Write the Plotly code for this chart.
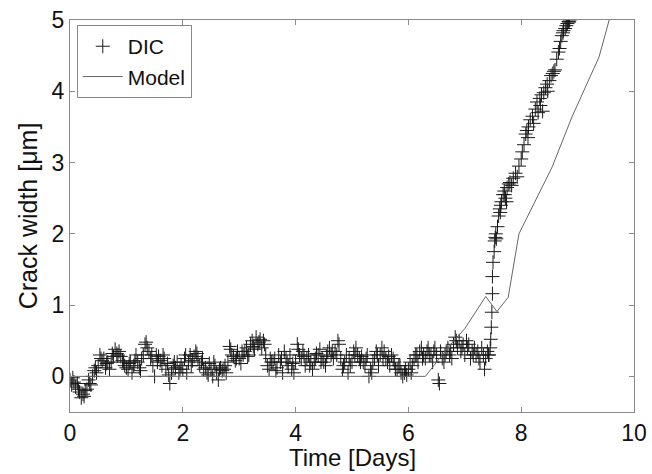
import plotly.graph_objects as go

# DIC measurements: time [days] and crack width [um]
dic_time = [
    0.00,0.03,0.07,0.10,0.13,0.17,0.20,0.23,0.27,0.30,0.33,0.37,0.40,0.43,0.47,0.50,0.53,0.57,0.60,0.63,0.67,0.70,0.73,0.77,0.80,0.83,0.87,0.90,0.93,0.97,
    1.00,1.03,1.07,1.10,1.13,1.17,1.20,1.23,1.27,1.30,1.33,1.37,1.40,1.43,1.47,1.50,1.53,1.57,1.60,1.63,1.67,1.70,1.73,1.77,1.80,1.83,1.87,1.90,1.93,1.97,
    2.00,2.03,2.07,2.10,2.13,2.17,2.20,2.23,2.27,2.30,2.33,2.37,2.40,2.43,2.47,2.50,2.53,2.57,2.60,2.63,2.67,2.70,2.73,2.77,2.80,2.83,2.87,2.90,2.93,2.97,
    3.00,3.03,3.07,3.10,3.13,3.17,3.20,3.23,3.27,3.30,3.33,3.37,3.40,3.43,3.47,3.50,3.53,3.57,3.60,3.63,3.67,3.70,3.73,3.77,3.80,3.83,3.87,3.90,3.93,3.97,
    4.00,4.03,4.07,4.10,4.13,4.17,4.20,4.23,4.27,4.30,4.33,4.37,4.40,4.43,4.47,4.50,4.53,4.57,4.60,4.63,4.67,4.70,4.73,4.77,4.80,4.83,4.87,4.90,4.93,4.97,
    5.00,5.03,5.07,5.10,5.13,5.17,5.20,5.23,5.27,5.30,5.33,5.37,5.40,5.43,5.47,5.50,5.53,5.57,5.60,5.63,5.67,5.70,5.73,5.77,5.80,5.83,5.87,5.90,5.93,5.97,
    6.00,6.03,6.07,6.10,6.13,6.17,6.20,6.23,6.27,6.30,6.33,6.37,6.40,6.43,6.47,6.50,6.53,6.57,6.60,6.63,6.67,6.70,6.73,6.77,6.80,6.83,6.87,6.90,6.93,6.97,
    7.00,7.03,7.07,7.10,7.13,7.17,7.20,7.23,7.27,7.30,7.33,7.37,7.40,7.43,7.45,
    7.46,7.47,7.48,7.49,7.49,7.50,7.52,7.53,7.54,7.55,7.56,7.58,7.60,7.62,7.63,7.65,7.68,7.70,7.72,7.75,
    7.78,7.80,7.83,7.86,7.90,7.93,7.96,8.00,8.02,8.05,8.08,8.10,8.13,8.16,8.20,8.22,8.25,8.28,8.30,8.33,
    8.36,8.38,8.40,8.43,8.46,8.50,8.53,8.56,8.60,8.63,8.66,8.68,8.70,8.72,8.75,8.78,8.80,8.82,8.84,8.86,
    # interleaved readings
    0.05,0.15,0.25,0.35,0.45,0.55,0.65,0.75,0.85,0.95,
    1.05,1.15,1.25,1.35,1.45,1.55,1.65,1.75,1.85,1.95,
    2.05,2.15,2.25,2.35,2.45,2.55,2.65,2.75,2.85,2.95,
    3.05,3.15,3.25,3.35,3.45,3.55,3.65,3.75,3.85,3.95,
    4.05,4.15,4.25,4.35,4.45,4.55,4.65,4.75,4.85,4.95,
    5.05,5.15,5.25,5.35,5.45,5.55,5.65,5.75,5.85,5.95,
    6.05,6.15,6.25,6.35,6.45,6.55,6.65,6.75,6.85,6.95,
    7.05,7.15,7.25,7.35,7.42,
    7.64,7.71,7.74,8.12,8.34,8.47,8.58,8.74,8.85,
]
dic_width = [
    -0.05,-0.12,-0.08,-0.15,-0.10,-0.22,-0.30,-0.25,-0.20,-0.18,-0.05,-0.12,0.00,0.08,0.05,0.15,0.30,0.22,0.25,0.12,0.20,0.10,0.20,0.28,0.38,0.32,0.35,0.28,0.22,0.15,
    0.12,0.10,0.20,0.05,0.15,0.30,0.20,0.12,0.25,0.30,0.45,0.40,0.35,0.25,0.15,0.00,0.30,0.28,0.22,0.15,0.25,0.10,0.18,-0.10,0.05,0.15,0.12,0.20,0.05,0.15,
    0.10,0.25,0.05,0.20,0.30,0.22,0.28,0.35,0.25,0.15,0.20,0.10,0.12,0.05,0.18,0.10,0.00,0.15,0.05,-0.05,0.12,0.08,0.10,0.05,0.20,0.42,0.30,0.28,0.22,0.35,
    0.25,0.18,0.30,0.35,0.40,0.30,0.45,0.50,0.38,0.55,0.45,0.52,0.40,0.50,0.30,0.15,0.10,0.20,0.20,0.25,0.12,0.30,0.20,0.05,0.35,0.25,0.15,0.30,0.10,0.05,
    0.20,0.45,0.30,0.25,0.35,0.15,0.25,0.30,0.20,0.10,0.20,0.32,0.30,0.38,0.25,0.20,0.15,0.35,0.40,0.30,0.25,0.35,0.30,0.45,0.25,0.10,0.20,0.30,0.05,0.15,
    0.20,0.35,0.40,0.30,0.25,0.28,0.20,0.15,0.30,0.00,0.10,0.20,0.25,0.35,0.15,0.30,0.40,0.35,0.25,0.20,0.15,0.30,0.25,0.10,0.10,0.15,0.05,0.00,0.05,0.02,
    0.10,0.20,0.15,0.25,0.30,0.20,0.35,0.40,0.30,0.25,0.35,0.30,0.30,0.20,0.40,0.30,-0.05,0.35,0.25,0.20,0.35,0.40,0.30,0.25,0.45,0.55,0.40,0.50,0.35,0.45,
    0.30,0.50,0.45,0.25,0.35,0.40,0.30,0.35,0.20,0.40,0.30,0.25,0.35,0.30,0.40,
    0.52,0.69,0.90,1.16,1.40,1.60,1.75,1.90,1.95,2.00,1.93,2.10,2.25,2.35,2.30,2.45,2.55,2.60,2.50,2.65,
    2.70,2.72,2.68,2.78,2.85,2.80,2.95,3.05,3.15,3.25,3.40,3.45,3.50,3.60,3.65,3.55,3.75,3.85,3.70,3.90,
    3.95,3.72,3.98,4.05,4.10,4.15,4.22,4.25,4.30,4.45,4.55,4.60,4.70,4.78,4.85,4.88,4.92,4.95,4.98,5.00,
    # interleaved readings
    -0.02,-0.18,-0.28,-0.10,0.12,0.25,0.18,0.32,0.30,0.20,
    0.18,0.22,0.08,0.48,0.30,0.20,0.30,0.02,0.20,0.10,
    0.30,0.15,0.32,0.25,0.02,0.20,0.10,0.15,0.38,0.25,
    0.35,0.28,0.42,0.48,0.45,0.25,0.08,0.25,0.20,0.18,
    0.38,0.28,0.15,0.25,0.20,0.28,0.35,0.50,0.15,0.25,
    0.30,0.20,0.25,0.05,0.30,0.25,0.28,0.20,0.15,0.10,
    0.05,0.30,0.25,0.40,0.35,-0.10,0.30,0.35,0.50,0.40,
    0.40,0.30,0.25,0.10,0.30,
    2.40,2.55,2.45,3.35,3.80,4.00,4.28,4.82,4.97,
]

# Model prediction
model_time = [0.0, 6.3, 6.75, 7.0, 7.37, 7.57, 7.77, 7.96, 8.55, 8.9, 9.38, 9.56, 9.7]
model_width = [0.0, 0.0, 0.45, 0.67, 1.12, 0.91, 1.11, 2.0, 2.94, 3.64, 4.48, 5.0, 5.3]

x_ticks = [0, 2, 4, 6, 8, 10]
y_ticks = [0, 1, 2, 3, 4, 5]

FONT = "Liberation Sans, Arial, sans-serif"

fig = go.Figure()
fig.add_trace(go.Scatter(
    x=dic_time, y=dic_width, mode="markers", name="DIC",
    marker=dict(symbol="cross-thin-open", size=10, color="#1a1a1a",
                line=dict(width=1, color="#1a1a1a")),
))
fig.add_trace(go.Scatter(
    x=model_time, y=model_width, mode="lines", name="Model",
    line=dict(color="#666666", width=1),
))

axis_common = dict(
    showline=True, linecolor="#8a8a8a", linewidth=1, mirror="ticks",
    ticks="inside", ticklen=5, tickcolor="#8a8a8a", showgrid=False,
    zeroline=False, tickfont=dict(size=23, color="#111", family=FONT),
    automargin=False,
)
fig.update_xaxes(range=[0, 10], tickvals=x_ticks, **axis_common)
fig.update_yaxes(range=[-0.5, 5], tickvals=y_ticks,
                 title=dict(text="Crack width [μm]", font=dict(size=25, color="#111", family=FONT), standoff=6),
                 **axis_common)

fig.add_annotation(
    text="Time [Days]", xref="paper", yref="paper", x=0.5, y=-61 / 392,
    xanchor="center", yanchor="bottom", showarrow=False,
    font=dict(size=24, color="#111", family=FONT),
)

fig.update_layout(
    width=652, height=474,
    margin=dict(l=70, r=18, t=20, b=62),
    paper_bgcolor="white", plot_bgcolor="white",
    font=dict(family=FONT, color="#111"),
    showlegend=True,
    legend=dict(x=0.012, y=0.987, xanchor="left", yanchor="top",
                bgcolor="white", bordercolor="#8a8a8a", borderwidth=1,
                font=dict(size=21, family=FONT, color="#111"),
                tracegroupgap=0, itemwidth=40),
)

fig.write_html("out.html")
